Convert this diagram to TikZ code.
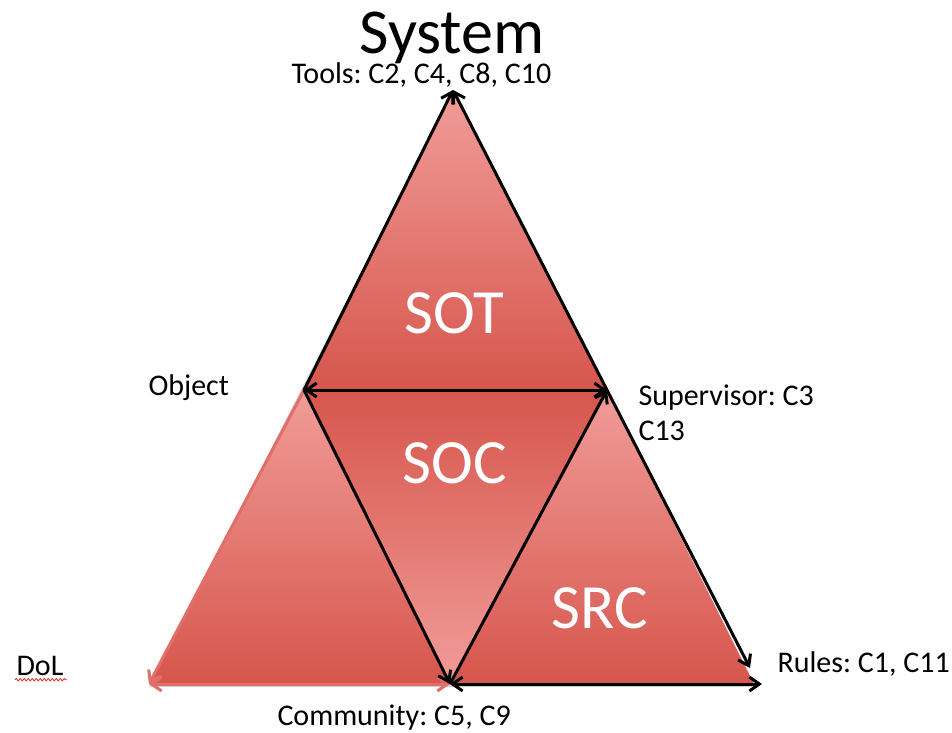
\documentclass[tikz,border=0pt]{standalone}
\usepackage{fontspec}
\setmainfont{Carlito}
\usetikzlibrary{arrows.meta}
\usetikzlibrary{decorations.pathmorphing}
\definecolor{pinklight}{RGB}{241,156,153}
\definecolor{reddark}{RGB}{214,86,76}
\definecolor{edgered}{RGB}{226,110,106}
\definecolor{squiggle}{RGB}{220,40,40}
\frenchspacing

\begin{document}
\begin{tikzpicture}[x=1pt,y=-1pt,line width=3pt,
  >={Straight Barb[length=10pt,width=14pt]},
  lab/.style={font=\fontsize{30}{35}\selectfont,inner sep=0pt,align=left},
  part/.style={font=\fontsize{63}{70}\selectfont,text=white,inner sep=0pt},
  down/.style={top color=pinklight,bottom color=reddark},
  up/.style={top color=reddark,bottom color=pinklight}]
  \useasboundingbox (0,0) rectangle (952,732);
  \coordinate (apex) at (453,90);
  \coordinate (pObj) at (304,390);
  \coordinate (pSup) at (607,390);
  \coordinate (pDol) at (149,684);
  \coordinate (pCom) at (450,684);
  \coordinate (pRul) at (754,684);
  \coordinate (pRulEnd) at (762,684);
  \coordinate (pRulTip) at (750,668);
  % shadow
  \begin{scope}[transform canvas={yshift=-3pt}]
    \fill[black,opacity=0.18] (apex)--(pDol)--(pRul)--cycle;
  \end{scope}
  \shade[down] (apex)--(pObj)--(pSup)--cycle;
  \shade[up] (pObj)--(pSup)--(pCom)--cycle;
  \shade[down] (pObj)--(pDol)--(pCom)--cycle;
  \shade[down] (pSup)--(pCom)--(pRul)--cycle;
  \node[part,anchor=base] (sot) at (454,333) {SOT};
  \node[part,anchor=base] (soc) at (455,483) {SOC};
  \node[part,anchor=base] (src) at (600,628) {SRC};
  \draw[->,edgered] (pObj)--(pDol);
  \draw[<->,edgered] (pDol)--(pCom);
  \draw[->] (pObj)--(apex);
  \draw[->] (pSup)--(apex);
  \draw[<->] (pObj)--(pSup);
  \draw[->] (pObj)--(pCom);
  \draw[->] (pCom)--(pSup);
  \draw[->] (pSup)--(pRulTip);
  \draw[<->] (pCom)--(pRulEnd);
  \node[anchor=base,font=\fontsize{64}{70}\selectfont,inner sep=0pt] (system) at (452,53) {System};
  \node[lab,anchor=base west] (tools) at (290,83) {Tools: C2, C4, C8, C10};
  \node[lab,anchor=base west] (object) at (147,395) {Object};
  \node[lab,anchor=base west] (supervisor) at (637,440) {Supervisor: C3\\C13};
  \node[lab,anchor=base west] (dol) at (15,675) {DoL};
  \draw[squiggle,line width=0.8pt,decorate,decoration={snake,amplitude=1.2pt,segment length=4pt}]
    (dol.south west)++(0,3)--++(52,0);
  \node[lab,anchor=base west] (rules) at (776,672) {Rules: C1, C11};
  \node[lab,anchor=base west] (community) at (276,725) {Community: C5, C9};
\end{tikzpicture}
\end{document}
